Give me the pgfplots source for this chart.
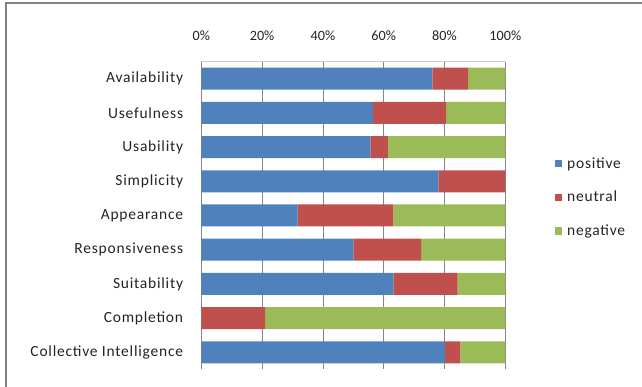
\documentclass[border=0pt]{standalone}
\usepackage{fontspec}
\setmainfont{Carlito}
\newfontfamily\lblfont[LetterSpace=5]{Carlito}
\usepackage{pgfplots}
\pgfplotsset{compat=1.18}
\definecolor{cpos}{HTML}{4F81BD}
\definecolor{cneu}{HTML}{C0504D}
\definecolor{cneg}{HTML}{9BBB59}
\definecolor{gridc}{RGB}{134,134,134}
\definecolor{txtc}{RGB}{35,35,35}
\begin{document}
\begin{tikzpicture}
\path[use as bounding box] (0,0) rectangle (642bp,-387bp);
\draw[color={rgb,255:red,128;green,128;blue,128}, line width=1.5bp] (6bp,-387bp) -- (6bp,-3bp) -- (642bp,-3bp);
\begin{axis}[
  at={(201.3bp,-61.5bp)}, anchor=north west,
  scale only axis, width=304bp, height=308bp,
  xbar stacked, bar width=22bp,
  xmin=0, xmax=100, ymin=-0.5, ymax=8.5,
  y dir=reverse,
  xtick={0,20,40,60,80,100},
  xticklabels={0\%,20\%,40\%,60\%,80\%,100\%},
  ytick={0,1,2,3,4,5,6,7,8},
  yticklabels={Availability,Usefulness,Usability,Simplicity,Appearance,Responsiveness,Suitability,Completion,Collective Intelligence},
  xticklabel pos=upper,
  major tick length=0pt,
  axis line style={draw=none},
  xmajorgrids, grid style={color=gridc, line width=0.8bp},
  extra description/.code={\draw[color={rgb,255:red,200;green,200;blue,200}, line width=1bp] (rel axis cs:0,1) -- (rel axis cs:1,1);},
  ticklabel style={text=txtc, inner sep=0pt},
  yticklabel style={anchor=east, xshift=-18bp, font=\lblfont\fontsize{15.5bp}{18bp}\selectfont},
  xticklabel style={anchor=base, yshift=21.5bp, font=\fontsize{14.2bp}{17bp}\selectfont},
  legend style={at={(1.152,0.559)}, anchor=west, draw=none, fill=none,
    font=\lblfont\fontsize{15.5bp}{18bp}\selectfont, text=txtc, row sep=17.5bp},
  legend cell align=left,
  legend image code/.code={\fill[#1] (0bp,-3.8bp) rectangle (7.6bp,3.8bp); \path (10.5bp,0bp);},
]
\addplot[fill=cpos, draw=none] coordinates {(76,0) (56.4,1) (55.6,2) (78,3) (31.7,4) (50,5) (63.2,6) (0,7) (80.2,8)};
\addplot[fill=cneu, draw=none] coordinates {(11.8,0) (24.1,1) (5.8,2) (22,3) (31.5,4) (22.3,5) (21.1,6) (21,7) (5,8)};
\addplot[fill=cneg, draw=none] coordinates {(12.2,0) (19.5,1) (38.6,2) (0,3) (36.8,4) (27.7,5) (15.7,6) (79,7) (14.8,8)};
\legend{positive,neutral,negative}
\end{axis}
\end{tikzpicture}
\end{document}
